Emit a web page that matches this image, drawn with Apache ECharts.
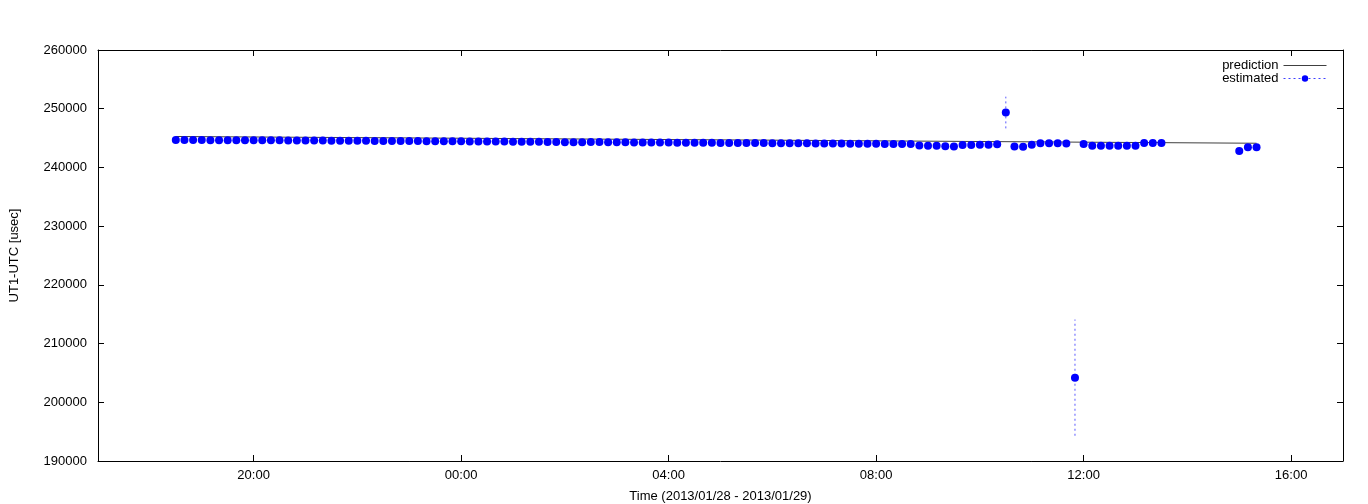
<!DOCTYPE html>
<html>
<head>
<meta charset="utf-8">
<script src="https://cdn.jsdelivr.net/npm/echarts@6/dist/echarts.min.js"></script>
<style>
html,body{margin:0;padding:0;background:#fff;}
#chart{width:1368px;height:504px;}
</style>
</head>
<body>
<div id="chart"></div>
<script>
// Observation times (2013/01/28 18:30 -> 2013/01/29 15:20)
const times = [
  "18:30","18:40","18:50",
  "19:00","19:10","19:20","19:30","19:40","19:50",
  "20:00","20:10","20:20","20:30","20:40","20:50",
  "21:00","21:10","21:20","21:30","21:40","21:50",
  "22:00","22:10","22:20","22:30","22:40","22:50",
  "23:00","23:10","23:20","23:30","23:40","23:50",
  "00:00","00:10","00:20","00:30","00:40","00:50",
  "01:00","01:10","01:20","01:30","01:40","01:50",
  "02:00","02:10","02:20","02:30","02:40","02:50",
  "03:00","03:10","03:20","03:30","03:40","03:50",
  "04:00","04:10","04:20","04:30","04:40","04:50",
  "05:00","05:10","05:20","05:30","05:40","05:50",
  "06:00","06:10","06:20","06:30","06:40","06:50",
  "07:00","07:10","07:20","07:30","07:40","07:50",
  "08:00","08:10","08:20","08:30","08:40","08:50",
  "09:00","09:10","09:20","09:30","09:40","09:50",
  "10:00","10:10","10:20","10:30","10:40","10:50",
  "11:00","11:10","11:20","11:30","11:40","11:50",
  "12:00","12:10","12:20","12:30","12:40","12:50",
  "13:00","13:10","13:20","13:30",
  "15:00","15:10","15:20"
];
// Estimated UT1-UTC [usec]
const estimated = [
  244680,244670,244660,
  244660,244650,244650,244640,244640,244630,
  244620,244620,244610,244610,244600,244590,
  244580,244580,244570,244560,244560,244550,
  244540,244530,244520,244520,244510,244500,
  244490,244480,244470,244460,244460,244450,
  244440,244430,244420,244410,244400,244400,
  244390,244380,244370,244360,244350,244320,
  244300,244290,244300,244320,244310,244290,
  244280,244270,244260,244260,244250,244240,
  244230,244220,244210,244210,244200,244190,
  244180,244170,244160,244160,244150,244140,
  244130,244120,244110,244110,244100,244090,
  244080,244070,244060,244050,244040,244030,
  244020,244010,244000,243990,243980,243720,
  243700,243680,243590,243580,243830,243840,
  243850,243860,243930,249350,243560,243540,
  243880,244100,244110,244100,244090,204200,
  243980,243710,243700,243710,243700,243690,
  243710,244150,244140,244150,
  242790,243420,243440
];
// Error (half-length of error bar) [usec]
const estErr = [
  300,300,300,
  300,300,300,300,300,300,
  300,300,300,300,300,300,
  300,300,300,300,300,300,
  300,300,300,300,300,300,
  300,300,300,300,300,300,
  300,300,300,300,300,300,
  300,300,300,300,300,300,
  300,300,300,300,300,300,
  300,300,300,300,300,300,
  300,300,300,300,300,300,
  300,300,300,300,300,300,
  300,300,300,300,300,300,
  300,300,300,300,300,300,
  300,300,300,300,300,300,
  300,300,300,300,300,300,
  300,300,300,2700,300,300,
  300,300,300,300,300,9900,
  300,300,300,300,300,300,
  300,300,300,300,
  300,300,300
];
// Prediction curve
const predTimes = ["18:30","21:00","00:00","03:00","06:00","09:00","12:00","15:20"];
const predicted = [245270,245130,244970,244800,244640,244470,244300,244120];
// Axis tick labels
const xTickLabels = ["20:00","00:00","04:00","08:00","12:00","16:00"];
const yTickLabels = [190000,200000,210000,220000,230000,240000,250000,260000];

function toHours(t){
  const [h,m] = t.split(':').map(Number);
  let v = h + m/60;
  if (h < 17) v += 24;
  return v;
}
function fmtHour(v){
  const h = Math.round(v) % 24;
  return (h < 10 ? '0' : '') + h + ':00';
}

const xTicks = xTickLabels.map(toHours);
const estData = times.map((t,i)=>[toHours(t), estimated[i]]);
const errData = times.map((t,i)=>[toHours(t), estimated[i]-estErr[i], estimated[i]+estErr[i]]);
const predData = predTimes.map((t,i)=>[toHours(t), predicted[i]]);

const FONT = 'Liberation Sans, Arial, sans-serif';
const chart = echarts.init(document.getElementById('chart'), null, {renderer:'canvas'});

const xCommon = {
  type:'value', min:17, max:41,
  splitLine:{show:false},
  axisLine:{show:true, lineStyle:{color:'#000', width:1}},
  axisTick:{show:true, inside:true, length:6, customValues:xTicks, lineStyle:{color:'#000'}},
};
const yCommon = {
  type:'value', min:yTickLabels[0], max:yTickLabels[yTickLabels.length-1], interval:10000,
  splitLine:{show:false},
  axisLine:{show:true, lineStyle:{color:'#000', width:1}},
  axisTick:{show:true, inside:true, length:6, lineStyle:{color:'#000'}},
};

chart.setOption({
  animation:false,
  backgroundColor:'#fff',
  textStyle:{fontFamily:FONT},
  grid:{left:98, right:25, top:50, bottom:43, show:false, containLabel:false, outerBoundsMode:'none'},
  legend:{
    orient:'vertical', right:36, top:54, align:'right',
    itemWidth:43, itemHeight:8, itemGap:0,
    textStyle:{fontSize:13, color:'#000', fontFamily:FONT},
    data:[
      {name:'prediction', itemStyle:{opacity:0}, lineStyle:{color:'#404040', width:1, opacity:1}},
      {name:'estimated', lineStyle:{type:[2,3], color:'#4040ff', width:1, opacity:1}}
    ]
  },
  xAxis:[
    Object.assign({}, xCommon, {
      position:'bottom',
      name:'Time (2013/01/28 - 2013/01/29)', nameLocation:'middle', nameGap:29,
      nameTextStyle:{fontSize:13, color:'#000', fontFamily:FONT},
      axisLabel:{show:true, customValues:xTicks, formatter:fmtHour, margin:8, fontSize:13, color:'#000', fontFamily:FONT}
    }),
    Object.assign({}, xCommon, {position:'top', axisLabel:{show:false}})
  ],
  yAxis:[
    Object.assign({}, yCommon, {
      position:'left',
      name:'UT1-UTC [usec]', nameLocation:'middle', nameGap:77, nameRotate:90,
      nameTextStyle:{fontSize:13, color:'#000', fontFamily:FONT},
      axisLabel:{show:true, formatter:v=>String(v), margin:11, fontSize:13, color:'#000', fontFamily:FONT}
    }),
    Object.assign({}, yCommon, {position:'right', axisLabel:{show:false}})
  ],
  series:[
    {
      name:'prediction', type:'line', data:predData, symbol:'none',
      lineStyle:{color:'#404040', width:1}, itemStyle:{color:'#404040'}, z:2
    },
    {
      name:'errbar', type:'custom', data:errData, z:3,
      encode:{x:0, y:[1,2]},
      renderItem:function(params, api){
        const x = api.value(0);
        const p1 = api.coord([x, api.value(1)]);
        const p2 = api.coord([x, api.value(2)]);
        return {type:'line', shape:{x1:p1[0], y1:p1[1], x2:p2[0], y2:p2[1]},
          style:{stroke:'#5a5aff', lineWidth:1, lineDash:[2,3]}};
      }
    },
    {
      name:'estimated', type:'line', data:estData,
      symbol:'circle', symbolSize:8, showAllSymbol:true,
      lineStyle:{opacity:0}, itemStyle:{color:'#0000ff'}, z:4
    }
  ]
});
</script>
</body>
</html>
